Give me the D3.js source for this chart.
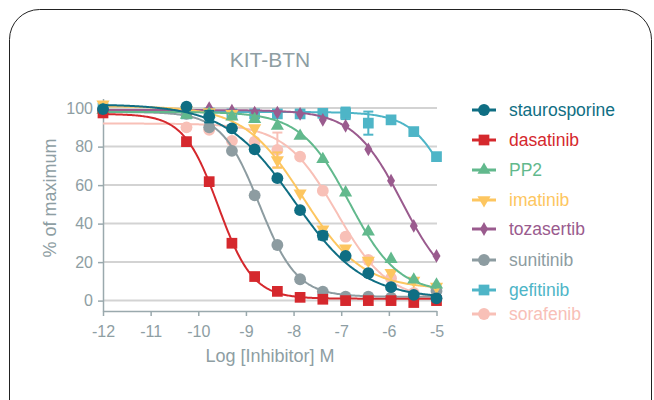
<!DOCTYPE html>
<html>
<head>
<meta charset="utf-8">
<script src="https://cdn.jsdelivr.net/npm/d3@7"></script>
<style>
  html, body { margin: 0; padding: 0; background: #fff; }
  svg { display: block; font-family: "Liberation Sans", Arial, sans-serif; }
</style>
</head>
<body>
<svg id="chart" width="654" height="400"></svg>
<script>
// Log10 molar concentrations (3-fold dilution series) plus the no-drug control at -12
const controlLog = -12;
const doseLog = [-10.248, -9.771, -9.294, -8.817, -8.340, -7.863, -7.386, -6.908, -6.431, -5.954, -5.477, -5.000];

const seriesNames = ["staurosporine", "dasatinib", "PP2", "imatinib", "tozasertib", "sunitinib", "gefitinib", "sorafenib"];
const seriesColors = ["#0f6e83", "#d5282d", "#62b98d", "#fdc660", "#9a5b8e", "#8d9ca1", "#4eb5c7", "#f8c0b7"];
const seriesShapes = ["circle", "square", "triangleUp", "triangleDown", "diamond", "circle", "square", "circle"];

// % of maximum at the control point (null = no control point)
const controlValues = [99.5, 97.5, 99, 102, 99.5, 98.5, 100, null];

// % of maximum at each dose
const staurosporine = [100.8, 95.6, 89.5, 78.6, 63.6, 47, 33.8, 23.2, 14.2, 7, 3, 1.2];
const dasatinib     = [82.6, 61.8, 29.8, 12.5, 4.8, 1.7, 0.7, 0, 0, 0, -1, 0];
const pp2           = [96.5, 97, 95.6, 94.2, 90.8, 85.5, 73.4, 56.1, 35.8, 21.5, 10.8, 8.2];
const imatinib      = [99, 98, 97, 89.6, 73, 55.8, 37, 27.2, 20.8, 14.5, 10.4, 7.3];
const tozasertib    = [98.5, 100, 98.7, 97.7, 97.7, 97, 93.9, 90.8, 78.6, 62.3, 38.8, 23.2];
const sunitinib     = [97, 90, 77.8, 54.7, 28.9, 11.1, 4.7, 2, 2, 1.5, 1.5, 5];
const gefitinib     = [97, 97.5, 97, 97, 97, 97, 97.3, 97.3, 92.2, 93.9, 87.8, 74.8];
const sorafenib     = [90, 88.7, 83, 82.6, 78.3, 74.8, 57.1, 33.2, 21.1, 11.6, 4, 1];
const seriesValues = [staurosporine, dasatinib, pp2, imatinib, tozasertib, sunitinib, gefitinib, sorafenib];

// Error bar half-widths (0 = none)
const staurosporineErr = [0, 3, 0, 0, 0, 0, 2, 0, 0, 0, 0, 0];
const dasatinibErr     = [0, 0, 0, 0, 0, 0, 0, 0, 0, 0, 0, 0];
const pp2Err           = [0, 0, 0, 0, 0, 0, 0, 0, 0, 0, 0, 0];
const imatinibErr      = [0, 0, 0, 0, 4, 0, 0, 0, 0, 0, 0, 0];
const tozasertibErr    = [0, 0, 0, 0, 0, 0, 0, 0, 0, 0, 0, 0];
const sunitinibErr     = [0, 0, 0, 0, 0, 0, 0, 0, 0, 0, 0, 0];
const gefitinibErr     = [0, 0, 0, 0, 0, 0, 0, 3, 6, 0, 0, 0];
const sorafenibErr     = [0, 0, 0, 0, 9, 0, 0, 0, 0, 0, 0, 0];
const seriesErrors = [staurosporineErr, dasatinibErr, pp2Err, imatinibErr, tozasertibErr, sunitinibErr, gefitinibErr, sorafenibErr];

// Four-parameter logistic fits: [top, bottom, logIC50, Hill slope]
const fitTop    = [102, 97, 98, 101, 99, 98, 98, 92];
const fitBottom = [1, 1, 4, 6, 3, 2, 0, 0];
const fitLogIC50 = [-7.98, -9.58, -6.83, -7.8, -5.72, -8.72, -4.53, -7.1];
const fitHill   = [0.6, 1.2, 0.85, 0.7, 0.85, 1.1, 1.0, 0.8];

const xTicks = [-12, -11, -10, -9, -8, -7, -6, -5];
const yTicks = [0, 20, 40, 60, 80, 100];

const titleText = "KIT-BTN";
const xTitle = "Log [Inhibitor] M";
const yTitle = "% of maximum";

const textGrey = "#8e9ea3";

const svg = d3.select("#chart");

// Card outline
svg.append("rect")
  .attr("x", 9.5).attr("y", 9.5)
  .attr("width", 642).attr("height", 430)
  .attr("rx", 30).attr("ry", 30)
  .attr("fill", "#fff").attr("stroke", "#222").attr("stroke-width", 1);

const x = d3.scaleLinear().domain([-12, -5]).range([103, 436.5]);
const y = d3.scaleLinear().domain([-5.4, 105]).range([311, 98.5]);

// Title
svg.append("text")
  .attr("x", 270).attr("y", 67)
  .attr("text-anchor", "middle")
  .attr("font-size", 21).attr("fill", textGrey)
  .text(titleText);

// Gridlines
svg.append("g").selectAll("line").data(yTicks).join("line")
  .attr("x1", 103).attr("x2", 437)
  .attr("y1", d => y(d)).attr("y2", d => y(d))
  .attr("stroke", "#d3d3d3").attr("stroke-width", 2);

// Y axis
const yAxis = svg.append("g").attr("transform", "translate(103,0)")
  .call(d3.axisLeft(y).tickValues(yTicks).tickSize(5).tickPadding(5).tickSizeOuter(0));
yAxis.select(".domain").attr("stroke", "#9aa9ad").attr("stroke-width", 1.5);
yAxis.selectAll(".tick line").attr("stroke", "#9aa9ad").attr("stroke-width", 1.5);
yAxis.selectAll(".tick text").attr("fill", textGrey).attr("font-size", 16)
  .attr("font-family", "Liberation Sans, Arial, sans-serif");

// X axis
const xAxis = svg.append("g").attr("transform", "translate(0,311)")
  .call(d3.axisBottom(x).tickValues(xTicks).tickSize(5).tickPadding(10).tickSizeOuter(0)
    .tickFormat(d3.format("d")));
xAxis.select(".domain").attr("stroke", "#9aa9ad").attr("stroke-width", 1.5);
xAxis.selectAll(".tick line").attr("stroke", "#9aa9ad").attr("stroke-width", 1.5);
xAxis.selectAll(".tick text").attr("fill", textGrey).attr("font-size", 16)
  .attr("font-family", "Liberation Sans, Arial, sans-serif")
  .text(d => d < 0 ? "-" + Math.abs(d) : d);

// Axis titles
svg.append("text")
  .attr("x", 270).attr("y", 362)
  .attr("text-anchor", "middle").attr("font-size", 18).attr("fill", textGrey)
  .text(xTitle);
svg.append("text")
  .attr("transform", "translate(56,198) rotate(-90)")
  .attr("text-anchor", "middle").attr("font-size", 18).attr("fill", textGrey)
  .text(yTitle);

// Marker symbols
function symbolFor(shape) {
  switch (shape) {
    case "square": return d3.symbol(d3.symbolSquare, 115);
    case "triangleUp": return d3.symbol(d3.symbolTriangle, 75);
    case "triangleDown": return d3.symbol(d3.symbolTriangle, 75);
    case "diamond": return d3.symbol(d3.symbolDiamond, 55);
    default: return d3.symbol(d3.symbolCircle, 110);
  }
}
function rotationFor(shape) { return shape === "triangleDown" ? 180 : 0; }

function logistic(i, lx) {
  return fitBottom[i] + (fitTop[i] - fitBottom[i]) / (1 + Math.pow(10, (lx - fitLogIC50[i]) * fitHill[i]));
}

const curveXs = d3.range(0, 281).map(k => -12 + k * 7 / 280);
const line = d3.line().x(d => x(d[0])).y(d => y(d[1])).curve(d3.curveLinear);

const plot = svg.append("g");
// draw last series first so the first-listed sits on top
const order = d3.range(seriesNames.length).reverse();

order.forEach(i => {
  const g = plot.append("g");
  const color = seriesColors[i];
  g.append("path")
    .attr("d", line(curveXs.map(lx => [lx, logistic(i, lx)])))
    .attr("fill", "none").attr("stroke", color).attr("stroke-width", 2);

  const pts = doseLog.map((lx, k) => ({ lx, v: seriesValues[i][k], e: seriesErrors[i][k] }));
  if (controlValues[i] !== null) pts.unshift({ lx: controlLog, v: controlValues[i], e: 0 });

  const eb = g.selectAll("g.err").data(pts.filter(p => p.e > 0)).join("g").attr("class", "err");
  eb.append("line")
    .attr("x1", p => x(p.lx)).attr("x2", p => x(p.lx))
    .attr("y1", p => y(p.v - p.e)).attr("y2", p => y(p.v + p.e))
    .attr("stroke", color).attr("stroke-width", 2);
  eb.selectAll("line.cap").data(p => [p.v - p.e, p.v + p.e].map(v => ({ lx: p.lx, v })))
    .join("line").attr("class", "cap")
    .attr("x1", p => x(p.lx) - 5).attr("x2", p => x(p.lx) + 5)
    .attr("y1", p => y(p.v)).attr("y2", p => y(p.v))
    .attr("stroke", color).attr("stroke-width", 2);

  g.selectAll("path.pt").data(pts).join("path").attr("class", "pt")
    .attr("d", symbolFor(seriesShapes[i]))
    .attr("transform", p => `translate(${x(p.lx)},${y(p.v)}) rotate(${rotationFor(seriesShapes[i])})`)
    .attr("fill", color);
});

// Legend
const legendY = [110, 140, 170, 200, 229, 260, 290, 314];
const legend = svg.append("g");
seriesNames.forEach((name, i) => {
  const row = legend.append("g").attr("transform", `translate(0,${legendY[i]})`);
  row.append("line").attr("x1", 472).attr("x2", 496).attr("y1", 0).attr("y2", 0)
    .attr("stroke", seriesColors[i]).attr("stroke-width", 3);
  row.append("path").attr("d", symbolFor(seriesShapes[i]))
    .attr("transform", `translate(484,0) rotate(${rotationFor(seriesShapes[i])})`)
    .attr("fill", seriesColors[i]);
  row.append("text").attr("x", 509).attr("y", 6)
    .attr("font-size", 17.5).attr("fill", seriesColors[i])
    .text(name);
});
</script>
</body>
</html>
